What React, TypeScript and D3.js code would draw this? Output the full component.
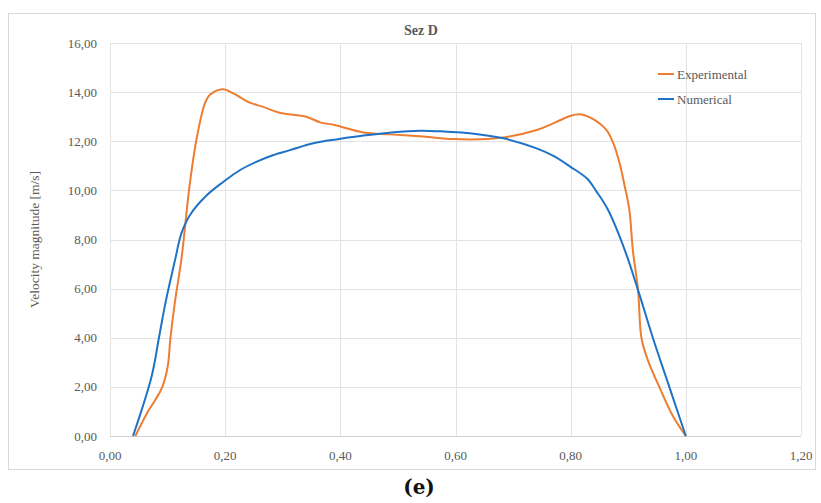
import React from "react";
import * as d3 from "d3";

const expX = [0.044, 0.064, 0.078, 0.09, 0.1, 0.105, 0.113, 0.124, 0.138, 0.150, 0.165, 0.174, 0.196, 0.214, 0.243, 0.266, 0.295, 0.341, 0.365, 0.39, 0.44, 0.486, 0.544, 0.596, 0.642, 0.683, 0.741, 0.77, 0.799, 0.816, 0.839, 0.862, 0.874, 0.885, 0.894, 0.902, 0.908, 0.917, 0.923, 0.934, 0.955, 0.978, 1.0];
const expY = [0, 0.92, 1.45, 1.95, 2.8, 4.0, 5.5, 7.2, 10.15, 12.05, 13.55, 13.9, 14.12, 13.95, 13.57, 13.4, 13.16, 13.0, 12.77, 12.66, 12.36, 12.28, 12.19, 12.09, 12.08, 12.15, 12.46, 12.73, 13.03, 13.1, 12.9, 12.46, 11.92, 11.1, 10.15, 9.2, 7.57, 5.94, 3.98, 3.09, 1.94, 0.79, 0];

const numX = [0.040, 0.072, 0.085, 0.097, 0.113, 0.124, 0.139, 0.168, 0.197, 0.226, 0.255, 0.284, 0.3125, 0.353, 0.398, 0.44, 0.486, 0.538, 0.585, 0.625, 0.683, 0.741, 0.77, 0.799, 0.828, 0.845, 0.865, 0.894, 0.917, 0.943, 0.972, 1.0];
const numY = [0, 2.4, 4.0, 5.5, 7.17, 8.25, 9.0, 9.8, 10.35, 10.83, 11.17, 11.44, 11.64, 11.92, 12.09, 12.23, 12.35, 12.43, 12.39, 12.33, 12.12, 11.71, 11.4, 10.97, 10.49, 9.95, 9.2, 7.57, 5.94, 3.98, 1.95, 0];

const xTicks = [0, 0.2, 0.4, 0.6, 0.8, 1.0, 1.2];
const yTicks = [0, 2, 4, 6, 8, 10, 12, 14, 16];
const seriesNames = ["Experimental", "Numerical"];
const seriesColors = ["#ED7D31", "#1F73C6"];
const chartTitle = "Sez D";
const yTitle = "Velocity magnitude [m/s]";
const caption = "(e)";

const fmt = (v: number) => v.toFixed(2).replace(".", ",");

export default function App() {
  const W = 821, H = 503;
  const left = 110, right = 801, top = 43, bottom = 436;
  const x = d3.scaleLinear().domain([0, 1.2]).range([left, right]);
  const y = d3.scaleLinear().domain([0, 16]).range([bottom, top]);
  const line = d3
    .line<[number, number]>()
    .x((d) => x(d[0]))
    .y((d) => y(d[1]))
    .curve(d3.curveCatmullRom.alpha(0.5));
  const series = [
    expX.map((v, i) => [v, expY[i]] as [number, number]),
    numX.map((v, i) => [v, numY[i]] as [number, number]),
  ];
  const font = "'Liberation Serif', 'Times New Roman', serif";
  const gray = "#595959";
  return (
    <svg
      width={W}
      height={H}
      style={{ position: "absolute", left: 0, top: 0, background: "#fff" }}
      fontFamily={font}
    >
      <rect x={8.5} y={13.5} width={807} height={456} fill="#fff" stroke="#d9d9d9" strokeWidth={1} />
      {yTicks.map((t) => (
        <line key={"gy" + t} x1={left} x2={right} y1={Math.round(y(t)) + 0.5} y2={Math.round(y(t)) + 0.5} stroke={t === 0 ? "#d0d0d0" : "#e3e3e3"} strokeWidth={1} />
      ))}
      {xTicks.map((t) => (
        <line key={"gx" + t} x1={Math.round(x(t)) + 0.5} x2={Math.round(x(t)) + 0.5} y1={top} y2={bottom} stroke="#e3e3e3" strokeWidth={1} />
      ))}
      {yTicks.map((t) => (
        <text key={"ty" + t} x={left - 13} y={y(t)} dy="0.35em" textAnchor="end" fontSize={13} fill={gray}>
          {fmt(t)}
        </text>
      ))}
      {xTicks.map((t) => (
        <text key={"tx" + t} x={x(t)} y={bottom + 24} textAnchor="middle" fontSize={13} fill={gray}>
          {fmt(t)}
        </text>
      ))}
      <text x={421} y={35} textAnchor="middle" fontSize={14} fontWeight="bold" fill={gray}>
        {chartTitle}
      </text>
      <text transform={`translate(39,${(top + bottom) / 2}) rotate(-90)`} textAnchor="middle" fontSize={13.5} fill={gray}>
        {yTitle}
      </text>
      {series.map((s, i) => (
        <path key={"s" + i} d={line(s) || ""} fill="none" stroke={seriesColors[i]} strokeWidth={2} strokeLinejoin="round" />
      ))}
      {seriesNames.map((n, i) => (
        <g key={"lg" + i} transform={`translate(658,${74 + i * 25})`}>
          <line x1={0} x2={16} y1={0} y2={0} stroke={seriesColors[i]} strokeWidth={2} />
          <text x={19} y={0} dy="0.35em" fontSize={13} fill={gray}>
            {n}
          </text>
        </g>
      ))}
      <text x={419} y={494} textAnchor="middle" fontSize={20} fontWeight="bold" fill="#111" fontFamily="'DejaVu Serif', serif">
        {caption}
      </text>
    </svg>
  );
}
